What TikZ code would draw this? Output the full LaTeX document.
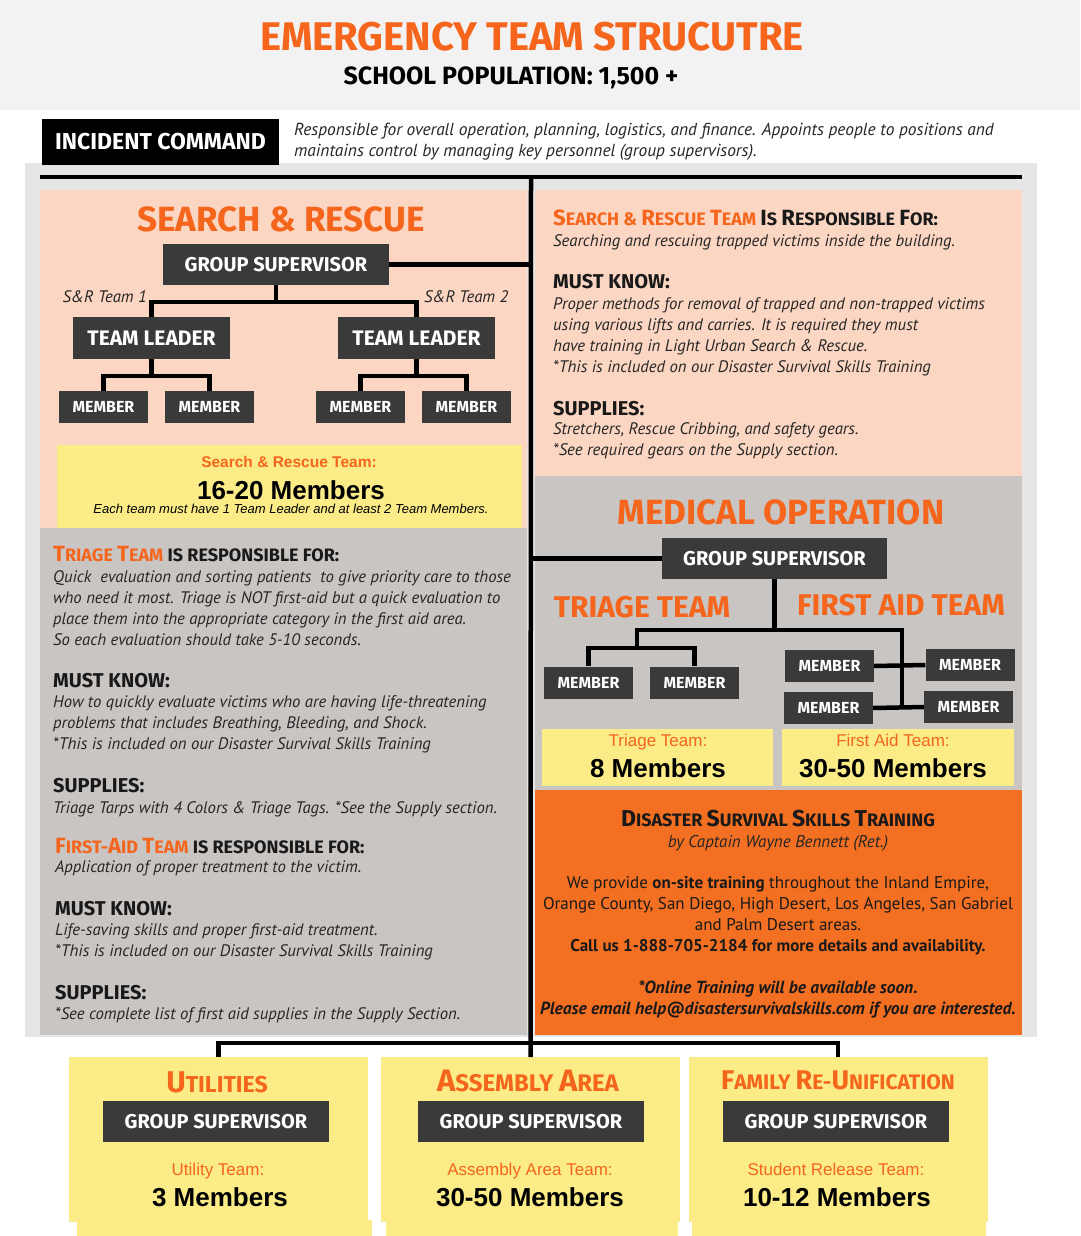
\documentclass[tikz,border=0pt]{standalone}
\usepackage{fontspec}
\setmainfont{Liberation Sans}
\newfontfamily\headfont{Fira Sans}
\newfontfamily\bodyfont{PT Sans}

\definecolor{hdrgray}{HTML}{F2F2F2}
\definecolor{framegray}{HTML}{E6E6E6}
\definecolor{peach}{HTML}{FBD6C2}
\definecolor{panelgray}{HTML}{C9C5C3}
\definecolor{notepad}{HTML}{FBEC88}
\definecolor{boxdark}{HTML}{3A3A3A}
\definecolor{titleorange}{HTML}{F5651C}
\definecolor{trainorange}{HTML}{F36F21}

% bigger initial letter for the small caps headings
\newcommand{\ini}[2][22]{{\fontsize{#1}{#1}\selectfont #2}}

\tikzset{
  wire/.style={line width=4.5pt, black},
  darkbox/.style={fill=boxdark, text=white, inner sep=0pt, font=\headfont\bfseries\fontsize{20}{20}\selectfont},
  memberbox/.style={darkbox, minimum width=89pt, minimum height=32pt, font=\headfont\bfseries\fontsize{16}{16}\selectfont},
  notebox/.style={fill=notepad, inner sep=0pt, anchor=north},
  title/.style={text=titleorange, anchor=base, inner sep=0pt, font=\headfont\bfseries\fontsize{35}{35}\selectfont},
  subtitle/.style={text=titleorange, anchor=base, inner sep=0pt, font=\headfont\bfseries\fontsize{30}{30}\selectfont},
  teamlabel/.style={text=titleorange, anchor=base, inner sep=0pt, font=\fontsize{17}{17}\selectfont},
  count/.style={anchor=base, inner sep=0pt, font=\bfseries\fontsize{26}{26}\selectfont},
  body/.style={anchor=base west, inner sep=0pt, align=left, text=black!85, font=\bodyfont\itshape\fontsize{16.7}{21}\selectfont},
  head/.style={anchor=base west, inner sep=0pt, text=black!90, font=\headfont\bfseries\fontsize{18}{18}\selectfont},
  bighead/.style={head, font=\headfont\bfseries\fontsize{20}{20}\selectfont},
}

\begin{document}
\begin{tikzpicture}[x=1pt, y=-1pt]
  \useasboundingbox (0,0) rectangle (1080,1236);
  % background and panels
  \fill[white] (0,0) rectangle (1080,1236);
  \fill[hdrgray] (0,0) rectangle (1080,110);
  \fill[framegray] (25,163) rectangle (1037,1037);
  \fill[peach] (40,190) rectangle (527,528);
  \fill[peach] (535,190) rectangle (1022,476);
  \fill[notepad] (57,445) rectangle (522,528);
  \fill[panelgray] (40,528) rectangle (527,1035);
  \fill[panelgray] (535,476) rectangle (1022,790);
  \fill[notepad] (542,729) rectangle (773,786);
  \fill[notepad] (782,729) rectangle (1014,786);
  \fill[trainorange] (535,790) rectangle (1022,1035);

  % bottom boxes
  \node[notebox, minimum width=299pt, minimum height=165pt] (utilBox) at (218.5,1057) {};
  \node[notebox, minimum width=299pt, minimum height=165pt] (asmBox) at (530.5,1057) {};
  \node[notebox, minimum width=299pt, minimum height=165pt] (famBox) at (838,1057) {};
  \fill[notepad] (77,1220) rectangle (372,1236);
  \fill[notepad] (386,1220) rectangle (678,1236);
  \fill[notepad] (692,1220) rectangle (986,1236);

  % header
  \node[anchor=base, inner sep=0pt, text=titleorange, font=\headfont\bfseries\fontsize{40}{40}\selectfont] (mainTitle) at (532,51) {EMERGENCY TEAM STRUCUTRE};
  \node[anchor=base, inner sep=0pt, font=\headfont\bfseries\fontsize{25}{25}\selectfont] (popLine) at (511,85) {SCHOOL POPULATION: 1,500 +};

  \node[darkbox, fill=black, minimum width=237pt, minimum height=45pt, font=\headfont\bfseries\fontsize{23}{23}\selectfont] (icBox) at (160.5,142) {INCIDENT COMMAND};
  \node[body, font=\bodyfont\itshape\fontsize{17.4}{21}\selectfont] (icText) at (294,157) {Responsible for overall operation, planning, logistics, and finance. Appoints people to positions and\\maintains control by managing key personnel (group supervisors).};

  % spine
  \coordinate (topL) at (40,177);
  \coordinate (topR) at (1022,177);
  \coordinate (spineT) at (531,177);
  \coordinate (spineB) at (531,1043);
  \draw[wire] (topL) -- (topR);
  \draw[wire] (spineT) -- (asmBox.north);
  \draw[wire] (utilBox.north) |- (spineB) -| (famBox.north);

  % search and rescue chart
  \node[title] (srTitle) at (281,231) {SEARCH \& RESCUE};
  \node[darkbox, minimum width=226pt, minimum height=41pt] (gsSR) at (276,264.5) {GROUP SUPERVISOR};
  \node[darkbox, minimum width=157pt, minimum height=42pt, font=\headfont\bfseries\fontsize{21}{21}\selectfont] (tlA) at (151.5,338) {TEAM LEADER};
  \node[darkbox, minimum width=157pt, minimum height=42pt, font=\headfont\bfseries\fontsize{21}{21}\selectfont] (tlB) at (416.5,338) {TEAM LEADER};
  \node[memberbox] (mA1) at (103.5,407) {MEMBER};
  \node[memberbox] (mA2) at (209.5,407) {MEMBER};
  \node[memberbox] (mB1) at (360.5,407) {MEMBER};
  \node[memberbox] (mB2) at (466.5,407) {MEMBER};
  \node[body, anchor=base east] (srTeamA) at (147,302) {S\&R Team 1};
  \node[body] (srTeamB) at (424,302) {S\&R Team 2};
  \draw[wire] (gsSR.east) -- (gsSR.east -| spineT);
  \draw[wire] (gsSR.south) -- ++(0,17);
  \draw[wire] (tlA.north) -- ++(0,-15) -| (tlB.north);
  \draw[wire] (tlA.south) -- ++(0,17);
  \draw[wire] (mA1.north) -- ++(0,-15) -| (mA2.north);
  \draw[wire] (tlB.south) -- ++(0,17);
  \draw[wire] (mB1.north) -- ++(0,-15) -| (mB2.north);
  \node[teamlabel, font=\bfseries\fontsize{15.5}{15.5}\selectfont] (srLabel) at (289,467) {Search \& Rescue Team:};
  \node[count] (srCount) at (291,499) {16-20 Members};
  \node[anchor=base, inner sep=0pt, font=\itshape\fontsize{13}{13}\selectfont] (srNote) at (291,513) {Each team must have 1 Team Leader and at least 2 Team Members.};

  % search and rescue duties
  \node[head] (srHead) at (553,225) {{\color{titleorange}\ini{S}EARCH \& \ini{R}ESCUE \ini{T}EAM} \ini{I}S \ini{R}ESPONSIBLE \ini{F}OR:};
  \node[body] (srResp) at (553,246) {Searching and rescuing trapped victims inside the building.};
  \node[bighead] (srKnowHead) at (553,288) {MUST KNOW:};
  \node[body] (srKnow) at (553,372) {Proper methods for removal of trapped and non-trapped victims\\using various lifts and carries. It is required they must\\have training in Light Urban Search \& Rescue.\\{*}This is included on our Disaster Survival Skills Training};
  \node[bighead] (srSupHead) at (553,415) {SUPPLIES:};
  \node[body] (srSup) at (553,455) {Stretchers, Rescue Cribbing, and safety gears.\\{*}See required gears on the Supply section.};

  % medical operation chart
  \node[title] (medTitle) at (781,524) {MEDICAL OPERATION};
  \node[darkbox, minimum width=225pt, minimum height=41pt] (gsMed) at (774.5,558.5) {GROUP SUPERVISOR};
  \node[subtitle] (triTitle) at (642,617) {TRIAGE TEAM};
  \node[subtitle] (faTitle) at (901,615) {FIRST AID TEAM};
  \node[memberbox] (tm1) at (588.5,682.5) {MEMBER};
  \node[memberbox] (tm2) at (694.5,682.5) {MEMBER};
  \node[memberbox] (fa1) at (829.5,666) {MEMBER};
  \node[memberbox] (fa2) at (970,665) {MEMBER};
  \node[memberbox] (fa3) at (828.5,708) {MEMBER};
  \node[memberbox] (fa4) at (968.5,707) {MEMBER};
  \coordinate (medL) at (637,630);
  \coordinate (medR) at (902,630);
  \coordinate (triFork) at (637,648);
  \coordinate (faBot) at (902,708);
  \draw[wire] (gsMed.west) -- (gsMed.west -| spineT);
  \draw[wire] (gsMed.south) -- (gsMed.south |- medL);
  \draw[wire] (triFork) -- (medL) -- (medR) -- (faBot);
  \draw[wire] (tm1.north) |- (triFork) -| (tm2.north);
  \draw[wire] (fa1.east) -- (fa2.west);
  \draw[wire] (fa3.east) -- (fa4.west);
  \node[teamlabel] (triLabel) at (658,746) {Triage Team:};
  \node[count] (triCount) at (658,777) {8 Members};
  \node[teamlabel] (faLabel) at (893,746) {First Aid Team:};
  \node[count] (faCount) at (893,777) {30-50 Members};

  % triage and first aid duties
  \node[head] (triHead) at (53,561) {{\color{titleorange}\ini{T}RIAGE \ini{T}EAM} IS RESPONSIBLE FOR:};
  \node[body] (triResp) at (53,645) {Quick\ \ evaluation and sorting patients\ \ to give priority care to those\\who need it most. Triage is NOT first-aid but a quick evaluation to\\place them into the appropriate category in the first aid area.\\So each evaluation should take 5-10 seconds.};
  \node[bighead] (triKnowHead) at (53,687) {MUST KNOW:};
  \node[body] (triKnow) at (53,749) {How to quickly evaluate victims who are having life-threatening\\problems that includes Breathing, Bleeding, and Shock.\\{*}This is included on our Disaster Survival Skills Training};
  \node[bighead] (triSupHead) at (53,792) {SUPPLIES:};
  \node[body] (triSup) at (53,813) {Triage Tarps with 4 Colors \& Triage Tags. *See the Supply section.};
  \node[head] (faHead) at (55,853) {{\color{titleorange}\ini{F}IRST-\ini{A}ID \ini{T}EAM} IS RESPONSIBLE FOR:};
  \node[body] (faResp) at (55,872) {Application of proper treatment to the victim.};
  \node[bighead] (faKnowHead) at (55,915) {MUST KNOW:};
  \node[body] (faKnow) at (55,956) {Life-saving skills and proper first-aid treatment.\\{*}This is included on our Disaster Survival Skills Training};
  \node[bighead] (faSupHead) at (55,999) {SUPPLIES:};
  \node[body] (faSup) at (55,1019) {*See complete list of first aid supplies in the Supply Section.};

  % training box
  \node[anchor=base, inner sep=0pt, text=black!90, font=\headfont\bfseries\fontsize{18}{18}\selectfont] (dsTitle) at (778,826) {\ini[23]{D}ISASTER \ini[23]{S}URVIVAL \ini[23]{S}KILLS \ini[23]{T}RAINING};
  \node[anchor=base, inner sep=0pt, text=black!85, font=\bodyfont\itshape\fontsize{17}{17}\selectfont] (dsBy) at (778,847) {by Captain Wayne Bennett (Ret.)};
  \node[anchor=base, inner sep=0pt, align=center, text=black!90, font=\bodyfont\fontsize{17}{21}\selectfont] (dsBody) at (778,951) {We provide \textbf{on-site training} throughout the Inland Empire,\\Orange County, San Diego, High Desert, Los Angeles, San Gabriel\\and Palm Desert areas.\\\textbf{Call us 1-888-705-2184 for more details and availability.}};
  \node[anchor=base, inner sep=0pt, align=center, text=black!90, font=\bodyfont\bfseries\itshape\fontsize{17.5}{21}\selectfont] (dsOnline) at (778,1014) {*Online Training will be available soon.\\Please email help@disastersurvivalskills.com if you are interested.};

  % bottom groups
  \node[subtitle, font=\headfont\bfseries\fontsize{23}{23}\selectfont] (utilTitle) at (217,1092) {\ini[30]{U}TILITIES};
  \node[subtitle, font=\headfont\bfseries\fontsize{24}{24}\selectfont] (asmTitle) at (528,1091) {\ini[31]{A}SSEMBLY \ini[31]{A}REA};
  \node[subtitle, font=\headfont\bfseries\fontsize{21}{21}\selectfont] (famTitle) at (838,1089) {\ini[27]{F}AMILY \ini[27]{R}E-\ini[27]{U}NIFICATION};
  \node[darkbox, minimum width=226pt, minimum height=41pt] (gsUtil) at (216,1121.5) {GROUP SUPERVISOR};
  \node[darkbox, minimum width=226pt, minimum height=41pt] (gsAsm) at (531,1121.5) {GROUP SUPERVISOR};
  \node[darkbox, minimum width=226pt, minimum height=41pt] (gsFam) at (836,1121.5) {GROUP SUPERVISOR};
  \node[teamlabel] (utilLabel) at (218,1175) {Utility Team:};
  \node[count] (utilCount) at (220,1206) {3 Members};
  \node[teamlabel] (asmLabel) at (530,1175) {Assembly Area Team:};
  \node[count] (asmCount) at (530,1206) {30-50 Members};
  \node[teamlabel] (famLabel) at (836,1175) {Student Release Team:};
  \node[count] (famCount) at (837,1206) {10-12 Members};
\end{tikzpicture}
\end{document}
